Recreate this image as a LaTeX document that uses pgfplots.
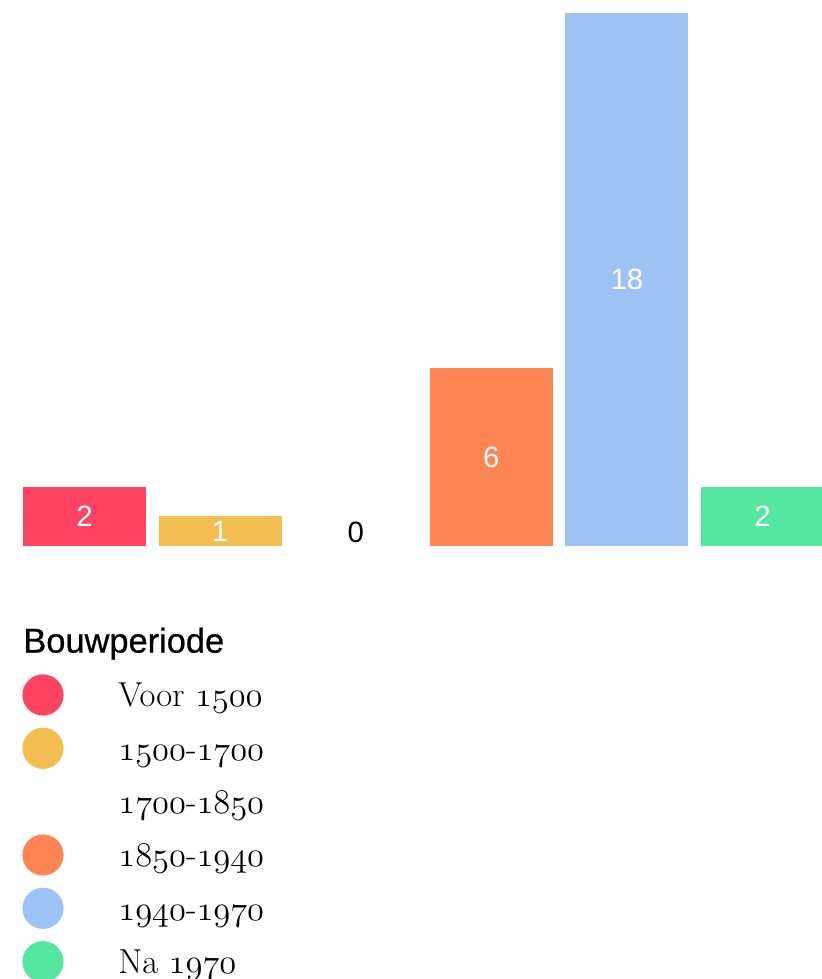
\documentclass[border=0pt]{standalone}
\usepackage{fontspec}
\usepackage{pgfplots}
\pgfplotsset{compat=1.18}
\newfontfamily\sansf{Liberation Sans}
\newfontfamily\sansm[FakeBold=0.7]{Liberation Sans}
\newcommand\osn[1]{{\fontencoding{OML}\fontfamily{lmm}\fontseries{m}\fontshape{it}\selectfont #1}}
\definecolor{cRed}{HTML}{FF4361}
\definecolor{cYel}{HTML}{F3BE51}
\definecolor{cOra}{HTML}{FF8654}
\definecolor{cBlu}{HTML}{9DC3F4}
\definecolor{cGre}{HTML}{55E6A0}
\begin{document}
\begin{tikzpicture}
\useasboundingbox (0,0) rectangle (410.5pt,489.5pt);
\begin{axis}[
  at={(11.5pt,216.5pt)}, anchor=south west,
  scale only axis, width=399pt, height=266.5pt,
  xmin=-0.4535, xmax=5.4314, ymin=0, ymax=18,
  hide axis, clip=false, ybar, bar width=61.5pt,
  nodes near coords={\pgfmathprintnumber[assume math mode=true]{\pgfplotspointmeta}},
  every node near coord/.append style={anchor=center, font=\sansf\fontsize{14.7}{16}\selectfont},
]
\addplot[fill=cRed, draw=none, bar shift=0pt, every node near coord/.append style={yshift=-14.8pt, text=white}] coordinates {(0,2)};
\addplot[fill=cYel, draw=none, bar shift=0pt, every node near coord/.append style={yshift=-7.4pt, text=white}] coordinates {(1,1)};
\addplot[fill=white, draw=none, bar shift=0pt, every node near coord/.append style={yshift=7pt, text=black}] coordinates {(2,0)};
\addplot[fill=cOra, draw=none, bar shift=0pt, every node near coord/.append style={yshift=-44.4pt, text=white}] coordinates {(3,6)};
\addplot[fill=cBlu, draw=none, bar shift=0pt, every node near coord/.append style={yshift=-133.2pt, text=white}] coordinates {(4,18)};
\addplot[fill=cGre, draw=none, bar shift=0pt, every node near coord/.append style={yshift=-14.8pt, text=white}] coordinates {(5,2)};
\end{axis}
\node[anchor=base west, inner sep=0pt, font=\sansm\fontsize{17.2}{19}\selectfont] at (11.5pt,163.2pt) {Bouwperiode};
\foreach \c/\t/\y [count=\i from 0] in {cRed/Voor \osn{1500}/142, cYel/\osn{1500}-\osn{1700}/115.35, white/\osn{1700}-\osn{1850}/88.7, cOra/\osn{1850}-\osn{1940}/62, cBlu/\osn{1940}-\osn{1970}/35.35, cGre/Na \osn{1970}/8.65}{
  \fill[\c] (21.5pt,\y pt) circle (10.3pt);
  \node[anchor=base west, inner sep=0pt, font=\fontsize{17.3}{20}\selectfont] at (59pt,\y pt-5.9pt) {\t};
}
\end{tikzpicture}
\end{document}
